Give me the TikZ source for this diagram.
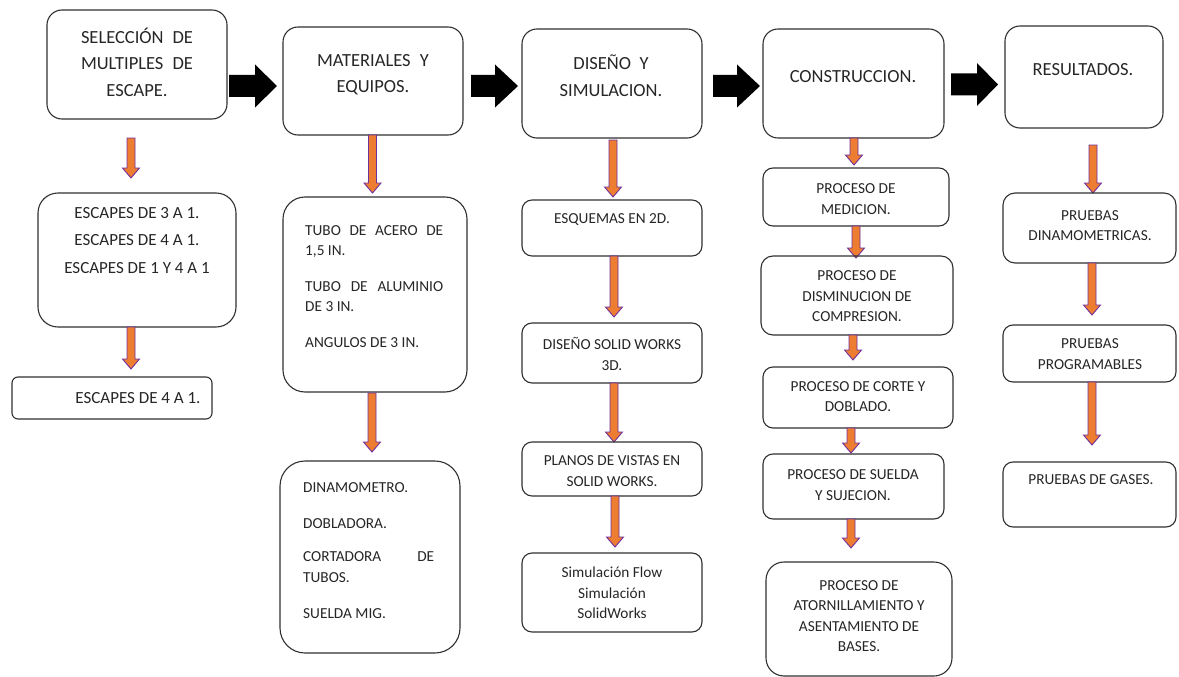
\documentclass[tikz,border=0pt]{standalone}
\usepackage{fontspec}
\setmainfont{Carlito}
\usetikzlibrary{calc}
\definecolor{orng}{HTML}{ED7D31}
\definecolor{purp}{HTML}{7030A0}
\definecolor{edge}{HTML}{303030}
\newcommand\bx[6]{\node[box=#6, minimum width={#4-#2}, minimum height={#5-#3}] (#1) at ({(#2+#4)/2},{(#3+#5)/2}) {};}
\newcommand\oarr[4]{%
  \coordinate (#1s) at (#2,#3); \coordinate (#1e) at (#2,#4);
  \draw[oarrow] ($(#1s)+(-4,0)$) -- ($(#1s)+(4,0)$) -- ($(#1e)+(4,-10)$) -- ($(#1e)+(8.5,-10)$) -- (#1e) -- ($(#1e)+(-8.5,-10)$) -- ($(#1e)+(-4,-10)$) -- cycle;}
\newcommand\barr[5]{%
  \coordinate (#1s) at (#2,#5); \coordinate (#1e) at (#4,#5);
  \fill[black] ($(#1s)+(0,-11)$) -- ({#3},{#5-11}) -- ({#3},{#5-21.5}) -- (#1e) -- ({#3},{#5+21.5}) -- ({#3},{#5+11}) -- ($(#1s)+(0,11)$) -- cycle;}
\newcommand\titlefont{\fontsize{18.5}{26.5}\selectfont}
\newcommand\colfont{\fontsize{17}{27.5}\selectfont}
\newcommand\smfont{\fontsize{15.3}{20.5}\selectfont}
\begin{document}
\begin{tikzpicture}[x=1pt,y=-1pt,
  box/.style={draw=edge, line width=1.1pt, rounded corners=#1, inner sep=0pt},
  box/.default=10pt,
  oarrow/.style={draw=purp, fill=orng, line width=0.9pt, line join=miter},
  ttl/.style={font=\titlefont, align=center, inner sep=0pt, text=black!85},
  ctx/.style={font=\smfont, align=center, inner sep=0pt, text=black!85},
  ltx/.style={font=\smfont, align=left, inner sep=0pt, anchor=west, text=black!85}]
\useasboundingbox (0,0) rectangle (1179,677);
% top row
\bx{b1}{47}{10}{227}{119}{15pt}
\bx{b2}{283}{27}{463}{135}{15pt}
\bx{b3}{522}{29}{702}{138}{15pt}
\bx{b4}{763}{29}{944}{138}{15pt}
\bx{b5}{1005}{26}{1163}{128}{15pt}
\node[ttl] (t1) at (137,62) {\makebox[112pt][s]{SELECCIÓN DE}\\\makebox[112pt][s]{MULTIPLES DE}\\ESCAPE.};
\node[ttl] (t2) at (373,74.5) {\makebox[112pt][s]{MATERIALES Y}\\EQUIPOS.};
\node[ttl] (t3) at (611,75.5) {DISEÑO~ Y\\SIMULACION.};
\node[ttl] (t4) at (853,77) {CONSTRUCCION.};
\node[ttl] (t5) at (1083,70) {RESULTADOS.};
\barr{k1}{229}{255}{277}{86}
\barr{k2}{471}{495}{518}{86}
\barr{k3}{713}{737}{760}{86}
\barr{k4}{951}{977}{998}{84.5}
% column 1
\oarr{a11}{131}{138}{178}
\bx{c11}{38}{193}{236}{327}{20pt}
\node[font=\colfont, align=center, inner sep=0pt, text=black!85] (tc11) at (137,240.5) {ESCAPES DE 3 A 1.\\ESCAPES DE 4 A 1.\\ESCAPES DE 1 Y 4 A 1};
\oarr{a12}{131}{327}{369}
\bx{c12}{12}{377}{212}{419}{6pt}
\node[font=\colfont, inner sep=0pt, text=black!85] (tc12) at (138,398) {ESCAPES DE 4 A 1.};
% column 2
\oarr{a21}{372.5}{135}{193}
\bx{c21}{283}{197}{467}{392}{22pt}
\node[ltx] (tc21) at (305,286.5) {\makebox[138pt][s]{TUBO DE ACERO DE}\\1,5 IN.\\[15pt]\makebox[138pt][s]{TUBO DE ALUMINIO}\\DE 3 IN.\\[15pt]ANGULOS DE 3 IN.};
\oarr{a22}{372}{393}{452}
\bx{c22}{280}{461}{460}{653}{25pt}
\node[ltx] (tc22) at (303,551) {DINAMOMETRO.\\[15pt]DOBLADORA.\\[13pt]\makebox[131pt][s]{CORTADORA DE}\\TUBOS.\\[16pt]SUELDA MIG.};
% column 3
\oarr{a31}{613}{140}{197}
\bx{c31}{522}{200}{702}{256}{10pt}
\node[ctx] (tc31) at (612,220) {ESQUEMAS EN 2D.};
\oarr{a32}{614}{256}{317}
\bx{c32}{522}{323}{702}{383}{10pt}
\node[ctx] (tc32) at (612,354) {DISEÑO SOLID WORKS\\3D.};
\oarr{a33}{614}{383}{442}
\bx{c33}{522}{442}{702}{496}{10pt}
\node[ctx] (tc33) at (612,471) {PLANOS DE VISTAS EN\\SOLID WORKS.};
\oarr{a34}{615}{496}{547}
\bx{c34}{522}{553}{702}{632}{10pt}
\node[ctx] (tc34) at (612,593) {Simulación Flow\\Simulación\\SolidWorks};
% column 4
\oarr{a41}{854}{138}{165}
\bx{c41}{763}{168}{949}{226}{10pt}
\node[ctx] (tc41) at (856,199) {PROCESO DE\\MEDICION.};
\oarr{a42}{856}{226}{258}
\bx{c42}{761}{256}{953}{335}{12pt}
\node[ctx] (tc42) at (857,296.5) {PROCESO DE\\DISMINUCION DE\\COMPRESION.};
\oarr{a43}{853}{335}{360}
\bx{c43}{763}{367}{953}{428}{10pt}
\node[ctx] (tc43) at (858,396.5) {PROCESO DE CORTE Y\\DOBLADO.};
\oarr{a44}{851}{428}{453}
\bx{c44}{763}{454}{944}{519}{10pt}
\node[ctx] (tc44) at (853,485) {PROCESO DE SUELDA\\Y SUJECION.};
\oarr{a45}{851}{519}{548}
\bx{c45}{766}{562}{952}{676}{18pt}
\node[ctx] (tc45) at (859,616) {PROCESO DE\\ATORNILLAMIENTO Y\\ASENTAMIENTO DE\\BASES.};
% column 5
\oarr{a51}{1093}{145}{193}
\bx{c51}{1003}{193}{1176}{263}{12pt}
\node[ctx] (tc51) at (1090,225.5) {PRUEBAS\\DINAMOMETRICAS.};
\oarr{a52}{1092}{263}{315}
\bx{c52}{1003}{325}{1176}{382}{10pt}
\node[ctx] (tc52) at (1090,354) {PRUEBAS\\PROGRAMABLES};
\oarr{a53}{1092}{382}{445}
\bx{c53}{1003}{462}{1176}{527}{10pt}
\node[ctx] (tc53) at (1091,480) {PRUEBAS DE GASES.};
\end{tikzpicture}
\end{document}
